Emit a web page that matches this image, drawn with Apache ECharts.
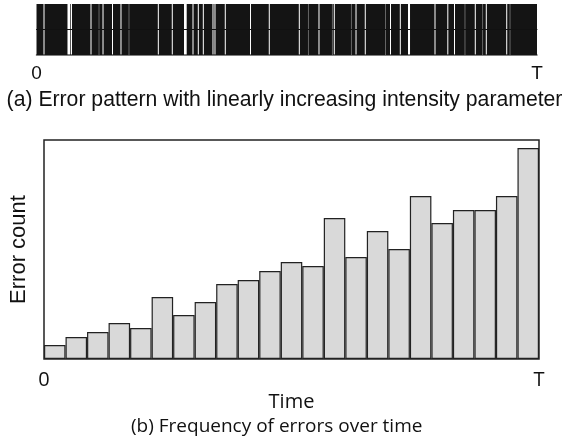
<!DOCTYPE html>
<html>
<head>
<meta charset="utf-8">
<script src="https://cdn.jsdelivr.net/npm/echarts@6/dist/echarts.min.js"></script>
<style>html,body{margin:0;padding:0;background:#fff;}#c{width:569px;height:439px;}</style>
</head>
<body>
<div id="c"></div>
<script>
// Panel (a): time axis runs 0..100 (% of T). Intervals without errors (clear gaps).
const timeGaps = [[1.40,1.60],[6.19,6.75],[6.89,7.09],[10.79,10.99],[13.19,13.39],[15.08,15.28],[16.78,16.98],[24.24,24.44],[27.03,27.23],[29.47,30.01],[31.17,31.37],[32.23,32.43],[33.23,33.43],[35.16,35.36],[35.56,35.76],[37.62,37.82],[42.66,42.86],[46.41,46.61],[52.41,52.61],[56.34,56.54],[59.40,59.60],[63.74,63.94],[65.59,65.79],[70.63,70.83],[72.59,72.79],[74.23,74.63],[79.52,79.72],[82.08,82.28],[83.42,83.62],[87.57,87.77],[89.77,89.97],[93.85,94.05]];
// Very short / partial gaps (rendered faint)
const faintGaps = [[12.42,12.56],[18.41,18.55],[54.24,54.38],[59.03,59.17],[62.83,62.97],[69.66,69.80],[85.54,85.68],[89.08,89.22],[94.54,94.68]];
const timeStart = 0, timeEnd = 100;
const timeTickLabels = ['0', 'T'];

// Panel (b): error counts per time bin
const errorCounts = [14, 22, 27, 36, 31, 62, 44, 57, 75, 79, 88, 97, 93, 141, 102, 128, 110, 163, 136, 149, 149, 163, 211];
const countMax = 219;
const binLabels = errorCounts.map((_, i) => String(i + 1));

const captionA = '(a) Error pattern with linearly increasing intensity parameter';
const captionB = '(b) Frequency of errors over time';

// error bursts = complement of the clear gaps
const bursts = [];
let cur = timeStart;
timeGaps.forEach(g => { bursts.push([cur, g[0]]); cur = g[1]; });
bursts.push([cur, timeEnd]);

function rectItem(fill) {
  return function (params, api) {
    const a = api.coord([api.value(0), 1]);
    const b = api.coord([api.value(1), -1]);
    return { type: 'rect', shape: { x: a[0], y: a[1], width: b[0] - a[0], height: b[1] - a[1] }, style: { fill: fill } };
  };
}

const humanist = '"Open Sans", "Noto Sans", sans-serif';
const arial = '"Liberation Sans", Arial, sans-serif';

const chart = echarts.init(document.getElementById('c'), null, { renderer: 'canvas' });
chart.setOption({
  animation: false,
  backgroundColor: '#fff',
  title: [
    { text: captionA, left: 'center', top: 85, textStyle: { fontFamily: arial, fontSize: 21.2, fontWeight: 'normal', color: '#111' } },
    { text: captionB, left: 126, top: 412, textStyle: { fontFamily: humanist, fontSize: 19, fontWeight: 'normal', color: '#111' } }
  ],
  grid: [
    { left: 36.5, right: 32, top: 4, height: 51 },
    { left: 40, right: 30, top: 140, height: 219, show: true, borderColor: '#222', borderWidth: 1.5, backgroundColor: 'transparent' }
  ],
  xAxis: [
    { gridIndex: 0, type: 'value', min: timeStart, max: timeEnd, position: 'top', z: 10,
      axisLine: { show: true, onZero: true, lineStyle: { color: '#111', width: 1 } },
      axisTick: { show: false }, axisLabel: { show: false }, splitLine: { show: false } },
    { gridIndex: 0, type: 'value', min: timeStart, max: timeEnd, position: 'bottom',
      axisLine: { show: true, onZero: false, lineStyle: { color: '#555', width: 1.5 } },
      axisTick: { show: false }, splitLine: { show: false },
      axisLabel: { show: true, customValues: [timeStart, timeEnd], margin: 9,
        formatter: v => v === timeStart ? timeTickLabels[0] : timeTickLabels[1],
        fontFamily: arial, fontSize: 19, color: '#111' } },
    { gridIndex: 1, type: 'category', data: binLabels, position: 'top', boundaryGap: true,
      axisLine: { show: false }, axisTick: { show: false }, axisLabel: { show: false }, splitLine: { show: false } },
    { gridIndex: 1, type: 'value', min: 0, max: 1, position: 'bottom',
      axisLine: { show: false }, axisTick: { show: false }, splitLine: { show: false },
      axisLabel: { show: true, customValues: [0, 1], margin: 11,
        formatter: v => v === 0 ? timeTickLabels[0] : timeTickLabels[1],
        fontFamily: humanist, fontSize: 20, color: '#111' },
      name: 'Time', nameLocation: 'middle', nameGap: 33,
      nameTextStyle: { fontFamily: humanist, fontSize: 20, color: '#111' } }
  ],
  yAxis: [
    { gridIndex: 0, type: 'value', min: -1, max: 1, show: false },
    { gridIndex: 1, type: 'value', min: 0, max: countMax,
      axisLine: { show: false }, axisTick: { show: false }, axisLabel: { show: false }, splitLine: { show: false },
      name: 'Error count', nameLocation: 'middle', nameGap: 14, nameRotate: 90,
      nameTextStyle: { fontFamily: arial, fontSize: 22, color: '#111' } }
  ],
  series: [
    { type: 'custom', xAxisIndex: 0, yAxisIndex: 0, data: bursts, encode: { x: [0, 1] }, renderItem: rectItem('#141414'), silent: true },
    { type: 'custom', xAxisIndex: 0, yAxisIndex: 0, data: faintGaps, encode: { x: [0, 1] }, renderItem: rectItem('#888'), silent: true },
    { type: 'bar', xAxisIndex: 2, yAxisIndex: 1, data: errorCounts, barCategoryGap: '0%',
      itemStyle: { color: '#d9d9d9', borderColor: '#222', borderWidth: 1.2 }, silent: true }
  ]
});
</script>
</body>
</html>
